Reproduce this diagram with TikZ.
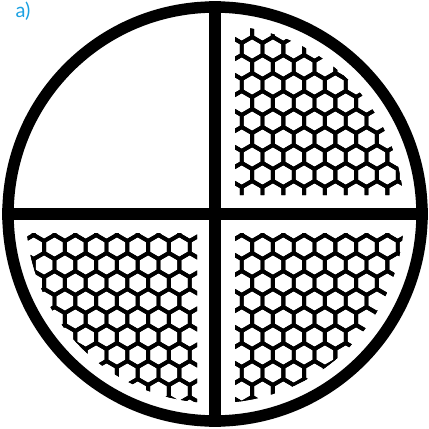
\documentclass[tikz,border=0pt]{standalone}
\usepackage{fontspec}
\setsansfont{Lato}
\usepackage{xcolor}
\usepackage{tikz}
\definecolor{labelblue}{RGB}{27,161,226}

\begin{document}
\begin{tikzpicture}[
            x=1pt, y=-1pt,
            frame/.style={
                draw=black,
                line width=11.5pt
            },
            cell/.style={
                draw=black,
                line width=3.9pt,
                line join=round
            },
            tag/.style={
                font=\sffamily\fontsize{20}{20}\selectfont,
                text=labelblue,
                inner sep=0pt
            }
        ]
            \useasboundingbox (0,0) rectangle (429,429);
            \def\hexr{12.01}
            % --- PANAL ---
            \begin{scope}
                \clip (215,214) circle (189);
                \clip (235,0) rectangle (429,195)
                      (235,233) rectangle (429,429)
                      (0,233) rectangle (197,429);
                \foreach \j in {0,...,23}{
                    \foreach \i in {0,...,20}{
                        \pgfmathsetmacro\cx{2.5+20.8*\i+10.4*mod(\j,2)}
                        \pgfmathsetmacro\cy{13+18*\j}
                        \draw [cell] (\cx,\cy) +(90:\hexr) -- +(150:\hexr) -- +(210:\hexr)
                            -- +(270:\hexr) -- +(330:\hexr) -- +(30:\hexr) -- cycle;
                    }
                }
            \end{scope}
            % --- MARCO ---
            \node (centre) at (215,214) {};
            \draw [frame] (centre.center) circle (207);
            \draw [frame] (215,1) -- (215,427);
            \draw [frame] (2,214) -- (428,214);
            % --- ETIQUETA ---
            \node [tag] (label_a) at (23,11) {a)};
        \end{tikzpicture}
\end{document}
